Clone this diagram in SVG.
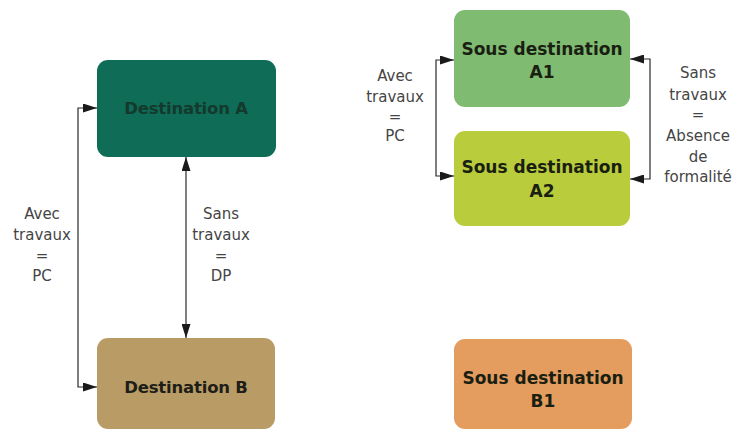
<svg xmlns="http://www.w3.org/2000/svg" width="736" height="432" viewBox="0 0 736 432">
<defs>
<marker id="arr" viewBox="0 0 14 9" refX="14" refY="4.5" markerWidth="14" markerHeight="9" markerUnits="userSpaceOnUse" orient="auto-start-reverse">
<path d="M0,0 L14,4.5 L0,9 z" fill="#1a1a1a"/>
</marker>
<style>
.box{stroke:none}
.t1{font-family:"DejaVu Sans",sans-serif;font-weight:bold;font-size:16.5px;letter-spacing:-0.2px;text-anchor:middle;fill:#1e1e18}
.t2{font-family:"DejaVu Sans",sans-serif;font-weight:bold;font-size:17px;text-anchor:middle;fill:#1a1f12}
.lbl{font-family:"DejaVu Sans",sans-serif;font-size:15px;text-anchor:middle;fill:#454545}
.con{fill:none;stroke:#2a2a2a;stroke-width:1.2;marker-start:url(#arr);marker-end:url(#arr)}
</style>
</defs>
<rect width="736" height="432" fill="#ffffff"/>
<g id="connectors">
<path class="con" d="M97,108 H78 V387 H97"/>
<path class="con" d="M186,157 V338"/>
<path class="con" d="M454,60 H436 V176 H454"/>
<path class="con" d="M630,59 H650 V179 H630"/>
</g>
<g id="destA">
<rect class="box" x="97" y="60" width="179" height="97" rx="11" fill="#0f6c57"/>
<text class="t1" x="186" y="114" style="fill:#14392d">Destination A</text>
</g>
<g id="destB">
<rect class="box" x="97" y="338" width="178" height="91" rx="11" fill="#b99c65"/>
<text class="t1" x="186" y="393">Destination B</text>
</g>
<g id="sousA1">
<rect class="box" x="454" y="10" width="176" height="97" rx="11" fill="#80bb72"/>
<text class="t2" x="542" y="55">Sous destination</text>
<text class="t2" x="542" y="78">A1</text>
</g>
<g id="sousA2">
<rect class="box" x="454" y="131" width="176" height="95" rx="11" fill="#b9cc3c"/>
<text class="t2" x="542" y="173">Sous destination</text>
<text class="t2" x="542" y="197">A2</text>
</g>
<g id="sousB1">
<rect class="box" x="454" y="339" width="178" height="90" rx="11" fill="#e49c5f"/>
<text class="t2" x="543" y="384">Sous destination</text>
<text class="t2" x="543" y="407">B1</text>
</g>
<g id="labels">
<text class="lbl" x="42" y="219">Avec</text>
<text class="lbl" x="42" y="240">travaux</text>
<text class="lbl" x="42" y="261">=</text>
<text class="lbl" x="42" y="281">PC</text>
<text class="lbl" x="221" y="219">Sans</text>
<text class="lbl" x="221" y="240">travaux</text>
<text class="lbl" x="221" y="261">=</text>
<text class="lbl" x="221" y="281">DP</text>
<text class="lbl" x="395" y="81">Avec</text>
<text class="lbl" x="395" y="102">travaux</text>
<text class="lbl" x="395" y="122">=</text>
<text class="lbl" x="395" y="141">PC</text>
<text class="lbl" x="698" y="78">Sans</text>
<text class="lbl" x="698" y="100">travaux</text>
<text class="lbl" x="698" y="120">=</text>
<text class="lbl" x="698" y="141">Absence</text>
<text class="lbl" x="698" y="162">de</text>
<text class="lbl" x="698" y="182">formalité</text>
</g>
</svg>
